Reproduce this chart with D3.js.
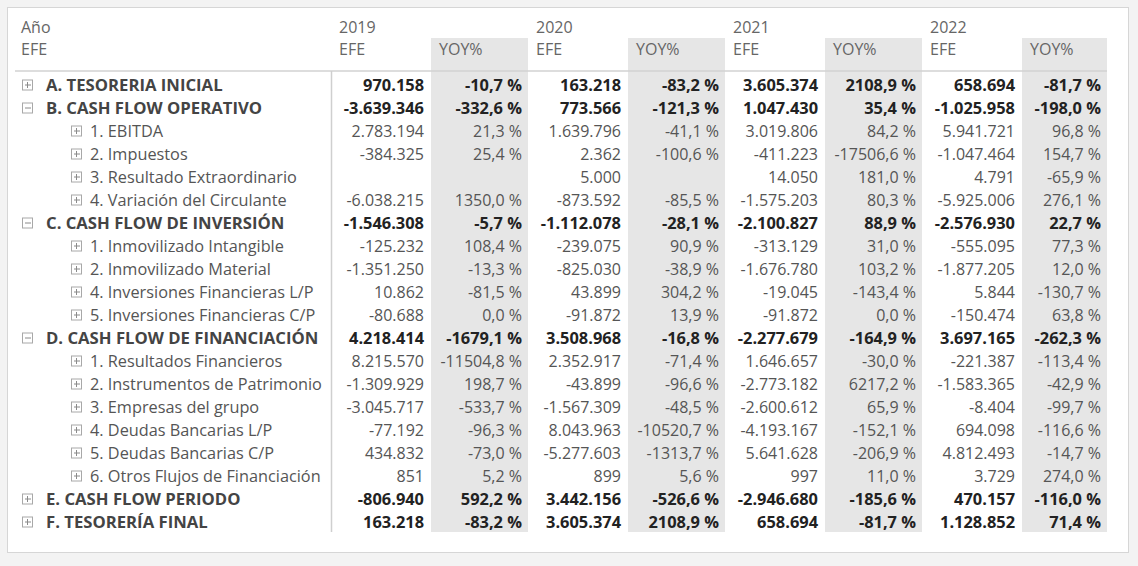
<!DOCTYPE html>
<html lang="es">
<head>
<meta charset="UTF-8">
<title>EFE matrix</title>
<script src="https://cdn.jsdelivr.net/npm/d3@7"></script>
<style>
    body {margin: 0; background: #f3f3f3;}
    svg {display: block; font-family: "Open Sans", "Noto Sans", sans-serif;}
</style>
</head>
<body>
<svg id="figure" width="1138" height="566"></svg>
<script>
// ---- data ----
let years = ["2019", "2020", "2021", "2022"]

let rowLabels = [
    "A. TESORERIA INICIAL", "B. CASH FLOW OPERATIVO",
    "1. EBITDA", "2. Impuestos", "3. Resultado Extraordinario", "4. Variación del Circulante",
    "C. CASH FLOW DE INVERSIÓN",
    "1. Inmovilizado Intangible", "2. Inmovilizado Material",
    "4. Inversiones Financieras L/P", "5. Inversiones Financieras C/P",
    "D. CASH FLOW DE FINANCIACIÓN",
    "1. Resultados Financieros", "2. Instrumentos de Patrimonio", "3. Empresas del grupo",
    "4. Deudas Bancarias L/P", "5. Deudas Bancarias C/P", "6. Otros Flujos de Financiación",
    "E. CASH FLOW PERIODO", "F. TESORERÍA FINAL"
]
// 0 = top level (bold), 1 = child
let rowLevel = [0,0, 1,1,1,1, 0, 1,1,1,1, 0, 1,1,1,1,1,1, 0,0]
// expanded (minus) or collapsed (plus)
let rowExpanded = [false,true, false,false,false,false, true, false,false,false,false, true,
    false,false,false,false,false,false, false,false]

let efe2019 = [970158, -3639346, 2783194, -384325, null, -6038215, -1546308, -125232, -1351250,
    10862, -80688, 4218414, 8215570, -1309929, -3045717, -77192, 434832, 851, -806940, 163218]
let yoy2019 = [-10.7, -332.6, 21.3, 25.4, null, 1350.0, -5.7, 108.4, -13.3, -81.5, 0.0, -1679.1,
    -11504.8, 198.7, -533.7, -96.3, -73.0, 5.2, 592.2, -83.2]

let efe2020 = [163218, 773566, 1639796, 2362, 5000, -873592, -1112078, -239075, -825030, 43899,
    -91872, 3508968, 2352917, -43899, -1567309, 8043963, -5277603, 899, 3442156, 3605374]
let yoy2020 = [-83.2, -121.3, -41.1, -100.6, null, -85.5, -28.1, 90.9, -38.9, 304.2, 13.9, -16.8,
    -71.4, -96.6, -48.5, -10520.7, -1313.7, 5.6, -526.6, 2108.9]

let efe2021 = [3605374, 1047430, 3019806, -411223, 14050, -1575203, -2100827, -313129, -1676780,
    -19045, -91872, -2277679, 1646657, -2773182, -2600612, -4193167, 5641628, 997, -2946680, 658694]
let yoy2021 = [2108.9, 35.4, 84.2, -17506.6, 181.0, 80.3, 88.9, 31.0, 103.2, -143.4, 0.0, -164.9,
    -30.0, 6217.2, 65.9, -152.1, -206.9, 11.0, -185.6, -81.7]

let efe2022 = [658694, -1025958, 5941721, -1047464, 4791, -5925006, -2576930, -555095, -1877205,
    5844, -150474, 3697165, -221387, -1583365, -8404, 694098, 4812493, 3729, 470157, 1128852]
let yoy2022 = [-81.7, -198.0, 96.8, 154.7, -65.9, 276.1, 22.7, 77.3, 12.0, -130.7, 63.8, -262.3,
    -113.4, -42.9, -99.7, -116.6, -14.7, 274.0, -116.0, 71.4]

let efeByYear = {"2019": efe2019, "2020": efe2020, "2021": efe2021, "2022": efe2022}
let yoyByYear = {"2019": yoy2019, "2020": yoy2020, "2021": yoy2021, "2022": yoy2022}

// ---- formatting (es) ----
let es = d3.formatLocale({decimal: ",", thousands: ".", grouping: [3], currency: ["", " €"], minus: "-"})
let fmtEfe = es.format(",.0f")
let fmtPct = es.format(".1f")
let fmtYoy = v => fmtPct(v) + " %"

// ---- layout ----
let svg = d3.select("#figure")
let tableLeft = 15, tableRight = 1107, bodyLeft = 331
let headerTop = 38, headerBottom = 71
let efeW = 100
let fsReg = 16, fsBold = 16.4
// row header labels render a touch wider in the original font
let fsLabel = 16.3, fsLabelBold = 16.7

svg.append("rect")
    .attr("x", 7.5).attr("y", 7.5)
    .attr("width", 1121).attr("height", 545)
    .attr("fill", "#ffffff")
    .attr("stroke", "#d6d6d6")

let x = d3.scaleBand()
    .domain(years)
    .range([bodyLeft, bodyLeft + 197 * years.length])

let y = d3.scaleBand()
    .domain(d3.range(rowLabels.length))
    .range([headerBottom + 2, headerBottom + 2 + 23 * rowLabels.length])

let g = svg.append("g")

// grey YOY column backgrounds
years.forEach(function (yr) {
    let x0 = x(yr) + efeW
    let x1 = Math.min(x(yr) + x.bandwidth(), tableRight)
    g.append("rect")
        .attr("x", x0).attr("y", headerTop)
        .attr("width", x1 - x0)
        .attr("height", y.range()[1] - 1 - headerTop)
        .attr("fill", "#e6e6e6")
})

// header line & row header divider
g.append("line")
    .attr("x1", tableLeft).attr("x2", tableRight)
    .attr("y1", headerBottom).attr("y2", headerBottom)
    .attr("stroke", "#d2d2d2").attr("stroke-width", 1.5)
g.append("line")
    .attr("x1", bodyLeft + 0.5).attr("x2", bodyLeft + 0.5)
    .attr("y1", headerBottom).attr("y2", y.range()[1] - 1)
    .attr("stroke", "#cfcfcf").attr("stroke-width", 1.5)

// header texts
let headerColor = "#666666"
g.append("text").attr("x", 21).attr("y", 27).attr("dy", "0.38em")
    .attr("fill", headerColor).attr("font-size", fsReg).text("Año")
g.append("text").attr("x", 21).attr("y", 49).attr("dy", "0.38em")
    .attr("fill", headerColor).attr("font-size", fsReg).text("EFE")

years.forEach(function (yr) {
    g.append("text").attr("x", x(yr) + 8).attr("y", 27).attr("dy", "0.38em")
        .attr("fill", headerColor).attr("font-size", fsReg).text(yr)
    g.append("text").attr("x", x(yr) + 8).attr("y", 49).attr("dy", "0.38em")
        .attr("fill", headerColor).attr("font-size", fsReg).text("EFE")
    g.append("text").attr("x", x(yr) + efeW + 8).attr("y", 49).attr("dy", "0.38em")
        .attr("fill", headerColor).attr("font-size", fsReg).text("YOY%")
})

// row headers with expand icons
let rows = g.selectAll("g.row")
    .data(rowLabels.map((d, i) => ({label: d, i: i, level: rowLevel[i], open: rowExpanded[i]})))
    .join("g")
    .attr("class", "row")
    .attr("transform", d => `translate(0,${y(d.i) + y.bandwidth() / 2})`)

rows.append("rect")
    .attr("x", d => d.level === 0 ? 22.5 : 71.5)
    .attr("y", -4.5)
    .attr("width", 10).attr("height", 10)
    .attr("fill", "none").attr("stroke", "#a8a8a8")
rows.append("line")
    .attr("x1", d => d.level === 0 ? 25 : 74)
    .attr("x2", d => d.level === 0 ? 31 : 80)
    .attr("y1", 0.5).attr("y2", 0.5)
    .attr("stroke", "#8a8a8a")
rows.filter(d => !d.open).append("line")
    .attr("x1", d => d.level === 0 ? 27.5 : 76.5)
    .attr("x2", d => d.level === 0 ? 27.5 : 76.5)
    .attr("y1", -2.5).attr("y2", 3.5)
    .attr("stroke", "#8a8a8a")

rows.append("text")
    .attr("x", d => d.level === 0 ? 46 : 90)
    .attr("dy", "0.4em")
    .attr("font-size", d => d.level === 0 ? fsLabelBold : fsLabel)
    .attr("font-weight", d => d.level === 0 ? 700 : 400)
    .attr("fill", d => d.level === 0 ? "#444444" : "#555555")
    .text(d => d.label)

// values
years.forEach(function (yr) {
    let efe = efeByYear[yr], yoy = yoyByYear[yr]
    let yoyRight = Math.min(x(yr) + x.bandwidth(), tableRight) - 6
    rows.append("text")
        .attr("x", x(yr) + efeW - 7)
        .attr("dy", "0.4em")
        .attr("text-anchor", "end")
        .attr("font-size", d => d.level === 0 ? fsBold : fsReg)
        .attr("font-weight", d => d.level === 0 ? 700 : 400)
        .attr("fill", d => d.level === 0 ? "#222222" : "#555555")
        .text(d => efe[d.i] == null ? "" : fmtEfe(efe[d.i]))
    rows.append("text")
        .attr("x", yoyRight)
        .attr("dy", "0.4em")
        .attr("text-anchor", "end")
        .attr("font-size", d => d.level === 0 ? fsBold : fsReg)
        .attr("font-weight", d => d.level === 0 ? 700 : 400)
        .attr("fill", d => d.level === 0 ? "#222222" : "#555555")
        .text(d => yoy[d.i] == null ? "" : fmtYoy(yoy[d.i]))
})
</script>
</body>
</html>
